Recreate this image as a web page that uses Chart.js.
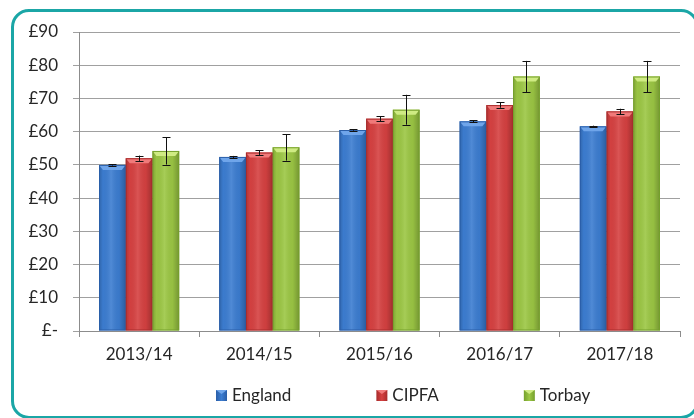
<!DOCTYPE html>
<html>
<head>
<meta charset="utf-8">
<script src="https://cdn.jsdelivr.net/npm/chart.js@4"></script>
<style>
    html, body { margin: 0; padding: 0; background: #fff; overflow: hidden; }
    #wrap { position: relative; width: 694px; height: 418px; overflow: hidden; }
    #frame { position: absolute; left: 11px; top: 9px; right: -5px; bottom: -1px; box-sizing: border-box;
             border: 3px solid #1ba6a6; border-radius: 18px; }
    #chart { position: absolute; left: 0; top: 0; }
</style>
</head>
<body>
<div id="wrap">
    <div id="frame"></div>
    <canvas id="chart" width="694" height="418"></canvas>
</div>
<script>
var years = ['2013/14', '2014/15', '2015/16', '2016/17', '2017/18'];
var england = [50.0, 52.4, 60.5, 63.1, 61.6];
var cipfa = [52.0, 53.7, 63.9, 68.0, 66.1];
var torbay = [54.2, 55.3, 66.6, 76.6, 76.6];
var englandErr = [0.2, 0.3, 0.2, 0.3, 0.2];
var cipfaErr = [0.8, 0.7, 0.8, 0.8, 0.8];
var torbayErr = [4.1, 4.0, 4.5, 4.7, 4.7];
var yTicks = [0, 10, 20, 30, 40, 50, 60, 70, 80, 90];

var fontFamily = 'Lato, "Open Sans", sans-serif';
var textColor = '#262626';

var colors = [
    { base: '#3c7dd1', edge: '#2a5ea8', light: '#6fa5ea' },
    { base: '#d64141', edge: '#a82c2c', light: '#f07a7a' },
    { base: '#9cc744', edge: '#75a02c', light: '#cfeb83' }
];

// shading + error bars drawn over the library's bar elements
var barExtras = {
    id: 'barExtras',
    afterDatasetsDraw: function(chart) {
        var ctx = chart.ctx;
        var yScale = chart.scales.y;
        chart.data.datasets.forEach(function(ds, i) {
            var meta = chart.getDatasetMeta(i);
            var c = colors[i];
            meta.data.forEach(function(bar, j) {
                var left = bar.x - bar.width / 2;
                var right = bar.x + bar.width / 2;
                var top = bar.y;
                var bottom = bar.base;
                ctx.save();
                var g = ctx.createLinearGradient(left, 0, right, 0);
                g.addColorStop(0, 'rgba(0,0,0,0.18)');
                g.addColorStop(0.15, 'rgba(0,0,0,0.02)');
                g.addColorStop(0.45, 'rgba(255,255,255,0.10)');
                g.addColorStop(0.75, 'rgba(0,0,0,0.04)');
                g.addColorStop(1, 'rgba(0,0,0,0.25)');
                ctx.fillStyle = g;
                ctx.fillRect(left, top, right - left, bottom - top);
                // top bevel
                ctx.fillStyle = c.light;
                ctx.beginPath();
                ctx.moveTo(left, top);
                ctx.lineTo(right, top);
                ctx.lineTo(right - 4, top + 5);
                ctx.lineTo(left + 4, top + 5);
                ctx.closePath();
                ctx.fill();
                ctx.strokeStyle = c.edge;
                ctx.lineWidth = 1;
                ctx.strokeRect(left + 0.5, top + 0.5, right - left - 1, bottom - top - 1);
                ctx.restore();
            });
        });
        var errs = [englandErr, cipfaErr, torbayErr];
        ctx.save();
        ctx.strokeStyle = '#111';
        ctx.lineWidth = 1;
        chart.data.datasets.forEach(function(ds, i) {
            var meta = chart.getDatasetMeta(i);
            meta.data.forEach(function(bar, j) {
                var v = ds.data[j];
                var yHi = yScale.getPixelForValue(v + errs[i][j]);
                var yLo = yScale.getPixelForValue(v - errs[i][j]);
                var x = Math.round(bar.x) + 0.5;
                ctx.beginPath();
                ctx.moveTo(x, yHi);
                ctx.lineTo(x, yLo);
                ctx.moveTo(x - 4, Math.round(yHi) + 0.5);
                ctx.lineTo(x + 4, Math.round(yHi) + 0.5);
                ctx.moveTo(x - 4, Math.round(yLo) + 0.5);
                ctx.lineTo(x + 4, Math.round(yLo) + 0.5);
                ctx.stroke();
            });
        });
        ctx.restore();
    }
};

// legend under the axis
var legendDraw = {
    id: 'legendDraw',
    afterDraw: function(chart) {
        var ctx = chart.ctx;
        ctx.save();
        ctx.font = '17px ' + fontFamily;
        ctx.textBaseline = 'middle';
        var x = 216;
        var y = 396;
        chart.data.datasets.forEach(function(ds, i) {
            var c = colors[i];
            var g = ctx.createLinearGradient(x, 0, x + 11, 0);
            g.addColorStop(0, c.edge);
            g.addColorStop(0.5, c.base);
            g.addColorStop(1, c.edge);
            ctx.fillStyle = g;
            ctx.fillRect(x, y - 6, 11, 11);
            ctx.fillStyle = c.light;
            ctx.beginPath();
            ctx.moveTo(x, y - 6);
            ctx.lineTo(x + 11, y - 6);
            ctx.lineTo(x + 5.5, y - 2);
            ctx.closePath();
            ctx.fill();
            ctx.fillStyle = textColor;
            ctx.fillText(ds.label, x + 16, y);
            x += 16 + ctx.measureText(ds.label).width + 85;
        });
        ctx.restore();
    }
};

var ctx = document.getElementById('chart').getContext('2d');
new Chart(ctx, {
    type: 'bar',
    data: {
        labels: years,
        datasets: [
            { label: 'England', data: england, backgroundColor: colors[0].base },
            { label: 'CIPFA', data: cipfa, backgroundColor: colors[1].base },
            { label: 'Torbay', data: torbay, backgroundColor: colors[2].base }
        ]
    },
    options: {
        responsive: false,
        animation: false,
        devicePixelRatio: 1,
        layout: { padding: { top: 32, right: 14, left: 0, bottom: 0 } },
        datasets: {
            bar: { categoryPercentage: 0.667, barPercentage: 1.0, borderWidth: 0 }
        },
        plugins: {
            legend: { display: false },
            tooltip: { enabled: false }
        },
        scales: {
            x: {
                offset: true,
                grid: { display: true, drawOnChartArea: false, offset: true, tickLength: 6, color: '#8c8c8c' },
                border: { color: '#8c8c8c' },
                ticks: { color: textColor, font: { family: fontFamily, size: 17 }, padding: 7 },
                afterFit: function(scale) { scale.height = 87; }
            },
            y: {
                min: 0,
                max: 90,
                afterBuildTicks: function(scale) {
                    scale.ticks = yTicks.map(function(v) { return { value: v }; });
                },
                grid: { color: '#a0a0a0', tickLength: 6 },
                border: { color: '#8c8c8c' },
                ticks: {
                    color: textColor,
                    font: { family: fontFamily, size: 17 },
                    padding: 15,
                    callback: function(v) { return v === 0 ? '£-' : '£' + v; }
                },
                afterFit: function(scale) { scale.width = 79; }
            }
        }
    },
    plugins: [barExtras, legendDraw]
});
</script>
</body>
</html>
